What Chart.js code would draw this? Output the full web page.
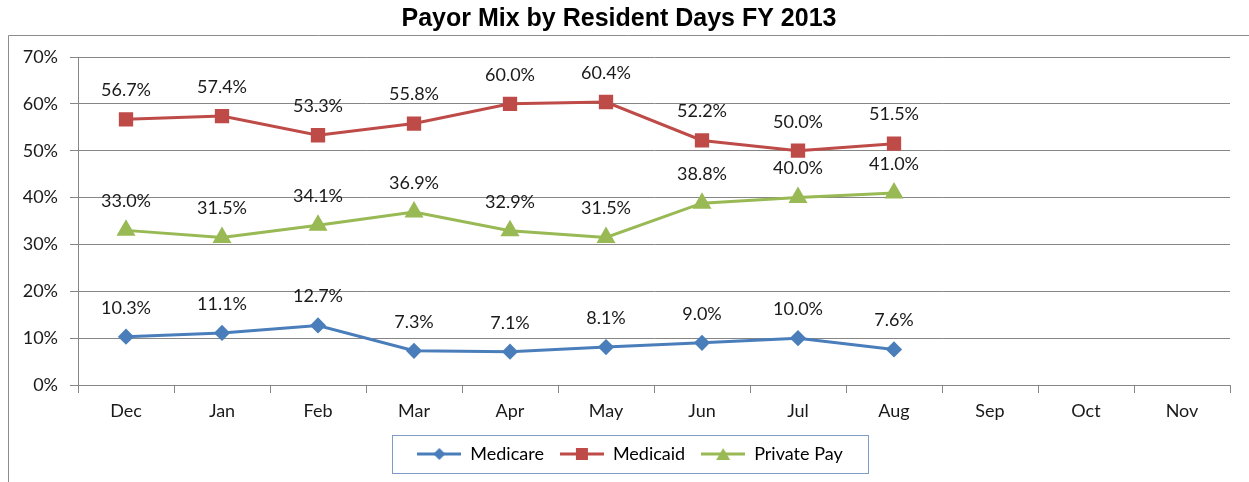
<!DOCTYPE html>
<html>
<head>
<meta charset="utf-8">
<script src="https://cdn.jsdelivr.net/npm/chart.js@4/dist/chart.umd.min.js"></script>
<style>
  html, body { margin: 0; padding: 0; background: #fff; }
  #wrap { width: 1249px; height: 482px; }
</style>
</head>
<body>
<div id="wrap"><canvas id="payor"></canvas></div>
<script>
const months = ["Dec", "Jan", "Feb", "Mar", "Apr", "May", "Jun", "Jul", "Aug", "Sep", "Oct", "Nov"];
const medicare = [10.3, 11.1, 12.7, 7.3, 7.1, 8.1, 9.0, 10.0, 7.6, null, null, null];
const medicaid = [56.7, 57.4, 53.3, 55.8, 60.0, 60.4, 52.2, 50.0, 51.5, null, null, null];
const privatePay = [33.0, 31.5, 34.1, 36.9, 32.9, 31.5, 38.8, 40.0, 41.0, null, null, null];
const yTicks = [0, 10, 20, 30, 40, 50, 60, 70];

const FONT = "Lato, 'Open Sans', sans-serif";
const GRID = "#868686";

// little line+marker swatch for the legend
function swatch(color, style) {
  const c = document.createElement("canvas");
  c.width = 44; c.height = 14;
  const g = c.getContext("2d");
  g.strokeStyle = color; g.lineWidth = 3;
  g.beginPath(); g.moveTo(0, 7); g.lineTo(44, 7); g.stroke();
  g.fillStyle = color;
  g.beginPath();
  if (style === "diamond") {
    g.moveTo(22, 1); g.lineTo(28, 7); g.lineTo(22, 13); g.lineTo(16, 7);
  } else if (style === "square") {
    g.rect(16, 1, 12, 12);
  } else {
    g.moveTo(22, 1); g.lineTo(29, 13); g.lineTo(15, 13);
  }
  g.closePath(); g.fill();
  return c;
}

const frame = {
  id: "frame",
  afterLayout(chart) {
    // excel centres the legend on the whole picture, not the plot
    chart.legend.left += 11;
    chart.legend.right += 11;
    chart.legend.top -= 4;
    chart.legend.bottom -= 4;
  },
  beforeDraw(chart) {
    const ctx = chart.ctx;
    ctx.save();
    ctx.strokeStyle = "#8c8c8c";
    ctx.lineWidth = 1;
    ctx.beginPath();
    ctx.moveTo(8.5, 482); ctx.lineTo(8.5, 35.5); ctx.lineTo(1249, 35.5);
    ctx.stroke();
    ctx.restore();
  },
  afterDraw(chart) {
    const ctx = chart.ctx;
    ctx.save();
    ctx.strokeStyle = "#7f9bc8";
    ctx.lineWidth = 1;
    ctx.strokeRect(392.5, 435.5, 476, 38);
    ctx.restore();
  }
};

const valueLabels = {
  id: "valueLabels",
  afterDatasetsDraw(chart) {
    const ctx = chart.ctx;
    ctx.save();
    ctx.font = "18px " + FONT;
    ctx.fillStyle = "#1a1a1a";
    ctx.textAlign = "center";
    ctx.textBaseline = "middle";
    chart.data.datasets.forEach((ds, i) => {
      chart.getDatasetMeta(i).data.forEach((pt, j) => {
        const v = ds.data[j];
        if (v === null) return;
        ctx.fillText(v.toFixed(1) + "%", pt.x, pt.y - 29);
      });
    });
    ctx.restore();
  }
};

new Chart(document.getElementById("payor").getContext("2d"), {
  type: "line",
  data: {
    labels: months,
    datasets: [
      {
        label: "Medicare",
        data: medicare,
        borderColor: "#4a7ebb",
        backgroundColor: "#4a7ebb",
        borderWidth: 3,
        pointStyle: "rectRot",
        pointRadius: 6,
        legendSwatch: swatch("#4a7ebb", "diamond"),
      },
      {
        label: "Medicaid",
        data: medicaid,
        borderColor: "#be4b48",
        backgroundColor: "#be4b48",
        borderWidth: 3,
        pointStyle: "rect",
        pointRadius: 8,
        legendSwatch: swatch("#be4b48", "square"),
      },
      {
        label: "Private Pay",
        data: privatePay,
        borderColor: "#98b954",
        backgroundColor: "#98b954",
        borderWidth: 3,
        pointStyle: "triangle",
        pointRadius: 8,
        legendSwatch: swatch("#98b954", "triangle"),
      },
    ],
  },
  options: {
    responsive: true,
    maintainAspectRatio: false,
    animation: false,
    layout: { padding: { left: 8, right: 19, top: 0, bottom: 5 } },
    plugins: {
      title: {
        display: true,
        text: "Payor Mix by Resident Days FY 2013",
        color: "#000",
        font: { family: "'Liberation Sans', Arial, sans-serif", size: 25, weight: "bold" },
        padding: { top: 4, bottom: 23 },
      },
      legend: {
        position: "bottom",
        labels: {
          usePointStyle: true,
          pointStyleWidth: 44,
          color: "#1a1a1a",
          font: { family: FONT, size: 18 },
          padding: 16,
          generateLabels(chart) {
            return chart.data.datasets.map((ds, i) => ({
              text: ds.label,
              pointStyle: ds.legendSwatch,
              fillStyle: ds.borderColor,
              strokeStyle: ds.borderColor,
              lineWidth: 0,
              datasetIndex: i,
              hidden: false,
            }));
          },
        },
      },
      tooltip: { enabled: false },
    },
    scales: {
      x: {
        offset: true,
        grid: { offset: true, drawOnChartArea: false, drawTicks: true, tickLength: 8, color: GRID },
        border: { display: true, color: GRID },
        ticks: { color: "#1a1a1a", font: { family: FONT, size: 18 }, padding: 7, maxRotation: 0 },
        afterFit(scale) { scale.height = 48; },
      },
      y: {
        min: 0,
        max: 70,
        afterBuildTicks(scale) { scale.ticks = yTicks.map(v => ({ value: v })); },
        grid: { color: GRID, drawTicks: true, tickLength: 8 },
        border: { display: true, color: GRID },
        ticks: { color: "#1a1a1a", font: { family: FONT, size: 18 }, padding: 12, callback: v => v + "%" },
        afterFit(scale) { scale.width = 70; },
      },
    },
  },
  plugins: [frame, valueLabels],
});
</script>
</body>
</html>
